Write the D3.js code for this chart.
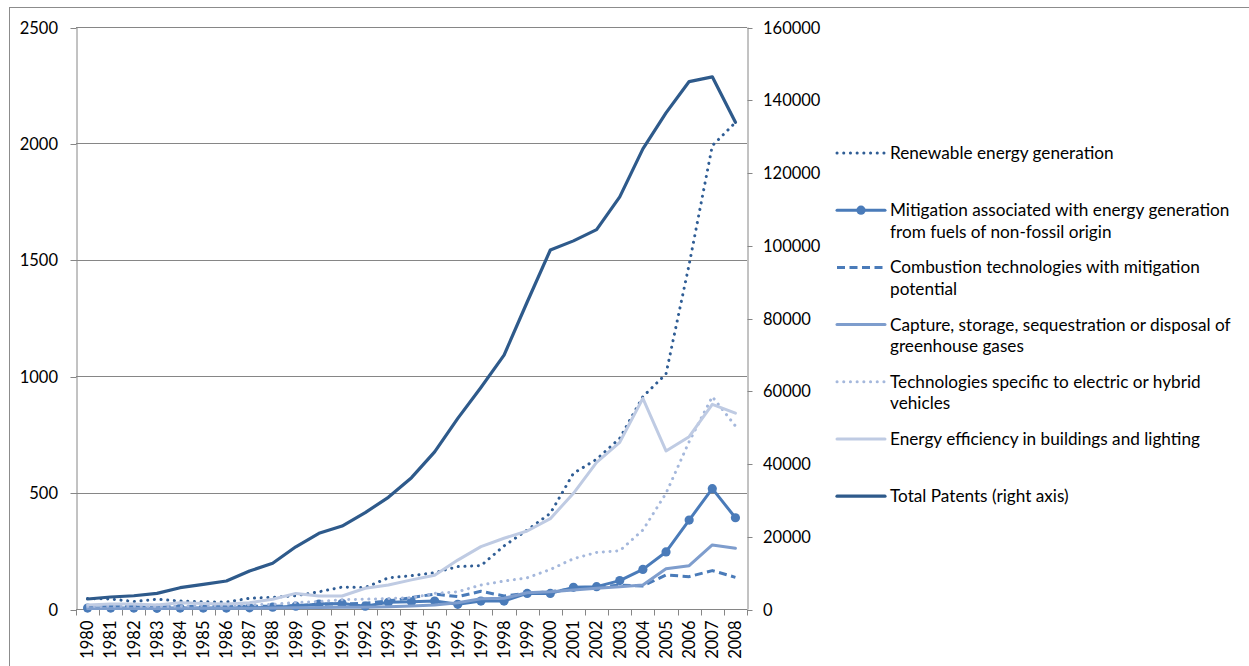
<!DOCTYPE html>
<html><head><meta charset="utf-8">
<script src="https://cdn.jsdelivr.net/npm/d3@7"></script>
<style>
html,body{margin:0;padding:0;background:#fff;overflow:hidden}
text{font-family:Lato,"Liberation Sans",sans-serif;fill:#000}
</style></head><body>
<svg id="chart" width="1249" height="666"></svg>
<script>
// ---- data ----
const years = d3.range(1980, 2009);
const leftTicks = [0, 500, 1000, 1500, 2000, 2500];
const rightTicks = [0, 20000, 40000, 60000, 80000, 100000, 120000, 140000, 160000];
const renewable  = [45,43,32,42,34,31,30,46,50,57,74,94,92,134,143,156,182,186,271,339,411,583,643,733,912,1010,1480,1990,2090];
const mitigation = [4,4,4,3,4,4,4,5,8,12,21,24,12,29,31,34,20,34,34,67,67,93,96,122,170,245,382,517,392];
const combustion = [10,12,10,10,10,12,12,12,12,15,20,22,25,34,49,64,53,76,56,67,74,87,93,103,99,146,139,165,136];
const capture    = [2,2,2,2,3,3,3,3,4,5,6,7,8,10,13,17,27,44,46,70,74,82,89,96,103,173,186,275,261];
const electric   = [10,12,12,10,12,15,15,18,20,28,32,40,42,45,49,67,74,103,120,134,170,216,243,250,339,497,719,912,786];
const efficiency = [17,21,21,17,27,24,21,27,42,67,56,56,89,103,125,145,210,268,304,335,388,497,630,716,905,679,740,879,841];
const total      = [2750,3300,3650,4300,5860,6780,7700,10450,12560,17100,20800,22800,26500,30700,36100,43200,52400,60900,69800,84400,98700,101200,104300,113300,126500,136400,145000,146300,133800];
const seriesNames = [
  ["Renewable energy generation"],
  ["Mitigation associated with energy generation", "from fuels of non-fossil origin"],
  ["Combustion technologies with mitigation", "potential"],
  ["Capture, storage, sequestration or disposal of", "greenhouse gases"],
  ["Technologies specific to electric or hybrid", "vehicles"],
  ["Energy efficiency in buildings and lighting"],
  ["Total Patents (right axis)"]
];

// ---- styles ----
const styles = [
  {vals: renewable,  color: "#2f5d95", dash: "0.1 6.6", cap: "round", w: 3,   axis: "L"},
  {vals: mitigation, color: "#4a7bb9", dash: null,      cap: "round", w: 3,   axis: "L", marker: true},
  {vals: combustion, color: "#4a7bb9", dash: "8 4.5",   cap: "butt",  w: 3,   axis: "L"},
  {vals: capture,    color: "#7e9dcd", dash: null,      cap: "round", w: 3,   axis: "L"},
  {vals: electric,   color: "#a5b8dc", dash: "0.1 6.6", cap: "round", w: 3,   axis: "L"},
  {vals: efficiency, color: "#bfcbe3", dash: null,      cap: "round", w: 3,   axis: "L"},
  {vals: total,      color: "#2e5a8b", dash: null,      cap: "round", w: 3.2, axis: "R"}
];

const svg = d3.select("#chart");
svg.append("rect").attr("x", 9.5).attr("y", 7.5).attr("width", 1400).attr("height", 800)
  .attr("fill", "#fff").attr("stroke", "#8c8c8c").attr("stroke-width", 1);

const P = {left: 76, right: 747, top: 27, bottom: 609};
const x = d3.scaleBand().domain(years).range([P.left, P.right]);
const cx = d => x(d) + x.bandwidth() / 2;
const yL = d3.scaleLinear().domain([0, 2500]).range([P.bottom, P.top]);
const yR = d3.scaleLinear().domain([0, 160000]).range([P.bottom, P.top]);
const axisColor = "#868686";
const fs = 16.5, lfs = 17.2;

// gridlines
svg.append("g").selectAll("line").data(leftTicks.filter(v => v > 0)).join("line")
  .attr("x1", P.left).attr("x2", P.right)
  .attr("y1", d => Math.round(yL(d)) + 0.5).attr("y2", d => Math.round(yL(d)) + 0.5)
  .attr("stroke", axisColor).attr("stroke-width", 1);

// left axis
const gL = svg.append("g").attr("transform", `translate(${P.left + 0.5},0)`)
  .call(d3.axisLeft(yL).tickValues(leftTicks).tickSize(6).tickSizeOuter(0).tickPadding(12.5).tickFormat(d3.format("d")));
// right axis
const gR = svg.append("g").attr("transform", `translate(${P.right + 0.5},0)`)
  .call(d3.axisRight(yR).tickValues(rightTicks).tickSize(5).tickSizeOuter(0).tickPadding(10.5).tickFormat(d3.format("d")));
[gL, gR].forEach(g => {
  g.select(".domain").attr("stroke", axisColor);
  g.selectAll(".tick line").attr("stroke", axisColor);
  g.selectAll(".tick text").attr("font-size", fs).attr("font-family", "Lato,'Liberation Sans',sans-serif").attr("fill", "#000");
  g.selectAll(".tick").attr("transform", function(){ const t = d3.select(this).attr("transform"); const m = /translate\(0,([^)]+)\)/.exec(t); return m ? `translate(0,${Math.round(+m[1]) + 0.5})` : t; });
});

// bottom axis
const gB = svg.append("g").attr("transform", `translate(0,${P.bottom + 0.5})`);
gB.append("line").attr("x1", P.left).attr("x2", P.right).attr("stroke", axisColor);
const bounds = years.map(d => x(d)).concat([P.right]);
gB.selectAll(".bt").data(bounds).join("line").attr("class", "bt")
  .attr("x1", d => Math.round(d) + 0.5).attr("x2", d => Math.round(d) + 0.5)
  .attr("y1", 0).attr("y2", 6).attr("stroke", axisColor);
gB.selectAll(".yl").data(years).join("text").attr("class", "yl")
  .attr("transform", d => `translate(${cx(d)},11) rotate(-90)`)
  .attr("text-anchor", "end").attr("dy", "0.35em").attr("font-size", fs)
  .text(d => d);

// lines
const lineL = d3.line().x((d, i) => cx(years[i])).y(d => yL(d));
const lineR = d3.line().x((d, i) => cx(years[i])).y(d => yR(d));
styles.forEach(s => {
  svg.append("path").datum(s.vals)
    .attr("d", s.axis === "L" ? lineL : lineR)
    .attr("fill", "none").attr("stroke", s.color).attr("stroke-width", s.w)
    .attr("stroke-linejoin", "round").attr("stroke-linecap", s.cap)
    .attr("stroke-dasharray", s.dash);
  if (s.marker) {
    svg.append("g").selectAll("circle").data(s.vals).join("circle")
      .attr("cx", (d, i) => cx(years[i])).attr("cy", d => yL(d)).attr("r", 4.6)
      .attr("fill", s.color);
  }
});

// legend
const legY0 = 153, legStep = 57.2, lx1 = 837, lx2 = 885, tx = 890;
styles.forEach((s, i) => {
  const y = legY0 + i * legStep;
  const g = svg.append("g");
  g.append("line").attr("x1", lx1).attr("x2", lx2).attr("y1", y).attr("y2", y)
    .attr("stroke", s.color).attr("stroke-width", s.w)
    .attr("stroke-linecap", s.cap).attr("stroke-dasharray", s.dash);
  if (s.marker) g.append("circle").attr("cx", (lx1 + lx2) / 2).attr("cy", y).attr("r", 4.6).attr("fill", s.color);
  seriesNames[i].forEach((t, j) => {
    g.append("text").attr("x", tx).attr("y", y + j * 21.5).attr("dy", "0.35em")
      .attr("font-size", lfs).text(t);
  });
});
</script>
</body></html>
